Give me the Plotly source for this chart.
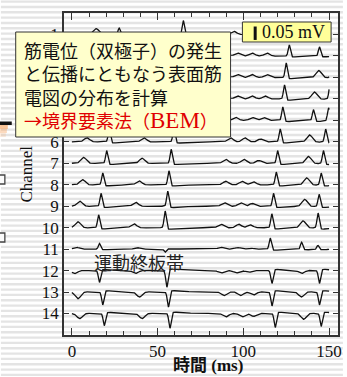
import numpy as np
import plotly.graph_objects as go

# ---------------- data ----------------
channels = list(range(1, 15))
x_tick_vals = [0, 50, 100, 150]
y_tick_vals = channels
scale_bar_mV = 0.05          # size of the scale bar
channel_spacing_mV = 0.08    # vertical distance between two channel baselines
t_start, t_end = 0.0, 150.0

# events per channel: time (ms), amplitude (mV, + = upward), kind (s = sharp spike, b = broad bump)
ch01_t = [14.2, 27.6, 65.0, 94.5]
ch01_a = [0.022, 0.024, 0.052, 0.012]
ch01_k = "bssb"
ch02_t = [96.6, 105.2, 113.8, 126.8, 144.4]
ch02_a = [0.011, 0.011, 0.011, 0.041, 0.034]
ch02_k = "bbbss"
ch03_t = [96.6, 105.2, 113.8, 125.0, 144.0, 151.5]
ch03_a = [0.011, 0.011, 0.011, 0.054, 0.026, 0.050]
ch03_k = "bbbsbs"
ch04_t = [96.6, 105.2, 112.8, 124.0, 141.5, 150.5]
ch04_a = [0.011, 0.011, 0.011, 0.052, 0.026, 0.048]
ch04_k = "bbbsbs"
ch05_t = [95.6, 105.2, 111.9, 123.0, 140.9, 149.7]
ch05_a = [0.011, 0.011, 0.011, 0.050, 0.040, 0.048]
ch05_k = "bbbsss"
ch06_t = [8.8, 21.8, 42.0, 59.5, 92.6, 101.0, 110.0, 121.5, 138.7, 148.0]
ch06_a = [0.015, 0.048, 0.015, 0.052, 0.015, 0.015, 0.011, 0.048, 0.026, 0.048]
ch06_k = "bsbsbbbsbs"
ch07_t = [6.9, 20.3, 41.0, 57.9, 89.8, 100.4, 109.0, 120.0, 138.0, 146.7]
ch07_a = [0.022, 0.047, 0.019, 0.052, 0.015, 0.015, 0.011, 0.047, 0.026, 0.048]
ch07_k = "bsbsbbbsbs"
ch08_t = [6.3, 18.0, 39.2, 56.6, 89.8, 99.4, 106.0, 119.2, 137.0, 145.4]
ch08_a = [0.019, 0.044, 0.015, 0.052, 0.013, 0.013, 0.011, 0.047, 0.026, 0.044]
ch08_k = "bsbsbbbsbs"
ch09_t = [4.6, 17.0, 37.2, 55.9, 88.9, 98.5, 105.2, 117.6, 135.8, 144.2]
ch09_a = [0.019, 0.048, 0.015, 0.056, 0.013, 0.013, 0.011, 0.048, 0.026, 0.045]
ch09_k = "bsbsbbbsbs"
ch10_t = [3.6, 15.6, 36.2, 54.4, 86.9, 97.4, 104.0, 116.6, 134.8, 143.6]
ch10_a = [0.022, 0.048, 0.015, 0.062, 0.013, 0.013, 0.011, 0.052, 0.026, 0.055]
ch10_k = "bsbsbbbsbs"
ch11_t = [2.7, 16.1, 38.0, 54.4, 86.9, 96.6, 104.0, 115.7, 134.0, 143.5]
ch11_a = [0.007, 0.021, 0.006, -0.011, 0.007, 0.006, 0.004, 0.041, 0.026, 0.015]
ch11_k = "bsbsbbbsss"
ch12_t = [1.7, 16.1, 37.2, 55.4, 87.0, 96.0, 103.0, 116.7, 134.0, 144.4]
ch12_a = [-0.011, -0.044, -0.011, -0.062, -0.009, -0.009, -0.007, -0.048, -0.011, -0.048]
ch12_k = "bsbsbbbsbs"
ch13_t = [3.6, 18.0, 39.5, 56.3, 88.9, 98.5, 106.0, 116.7, 133.9, 144.4]
ch13_a = [-0.025, -0.048, -0.019, -0.056, -0.013, -0.013, -0.011, -0.052, -0.019, -0.048]
ch13_k = "bsbsbbbsbs"
ch14_t = [4.6, 18.9, 41.0, 57.2, 89.8, 99.4, 106.0, 118.6, 135.2, 145.4]
ch14_a = [-0.019, -0.045, -0.019, -0.055, -0.013, -0.013, -0.011, -0.052, -0.022, -0.048]
ch14_k = "bsbsbbbsbs"

event_times = [ch01_t, ch02_t, ch03_t, ch04_t, ch05_t, ch06_t, ch07_t,
               ch08_t, ch09_t, ch10_t, ch11_t, ch12_t, ch13_t, ch14_t]
event_amps = [ch01_a, ch02_a, ch03_a, ch04_a, ch05_a, ch06_a, ch07_a,
              ch08_a, ch09_a, ch10_a, ch11_a, ch12_a, ch13_a, ch14_a]
event_kinds = [ch01_k, ch02_k, ch03_k, ch04_k, ch05_k, ch06_k, ch07_k,
               ch08_k, ch09_k, ch10_k, ch11_k, ch12_k, ch13_k, ch14_k]

# ---------------- layout geometry ----------------
W, H = 347, 377
ML, MR, MT, MB = 64, 5, 13, 42
PW, PH = W - ML - MR, H - MT - MB


def px2x(px):
    return (px - ML) / PW


def py2y(py):
    return (H - MB - py) / PH


def waveform(t, times, amps, kinds):
    v = np.zeros_like(t)
    for t0, a, k in zip(times, amps, kinds):
        sig = 0.65 if k == "s" else 1.6
        v += a * np.exp(-0.5 * ((t - t0) / sig) ** 2)
        dt = np.clip(t - t0, 0, None)
        tail = 0.17 if k == "s" else 0.08
        v -= tail * a * (np.exp(-dt / 6.0) - np.exp(-dt / 1.2))
    return v


t = np.round(np.arange(t_start, t_end + 0.05, 0.1), 2)

fig = go.Figure()
for ch, times, amps, kinds in zip(channels, event_times, event_amps, event_kinds):
    v = waveform(t, times, amps, kinds)
    fig.add_trace(go.Scatter(
        x=t, y=ch - v / channel_spacing_mV, mode="lines",
        line=dict(color="#111111", width=1.3), hoverinfo="skip", showlegend=False))

shapes = []
# striped slide background
for k in range(72):
    yc = 1.6 + 5.333 * k
    shapes.append(dict(type="rect", xref="paper", yref="paper",
                       x0=px2x(0), x1=px2x(W), y0=py2y(yc + 1.2), y1=py2y(yc - 1.2),
                       fillcolor="#E4E4E4", line=dict(width=0), layer="below"))
# slide decorations at the left edge
shapes.append(dict(type="rect", xref="paper", yref="paper", x0=px2x(-2), x1=px2x(11),
                   y0=py2y(125), y1=py2y(121.5), fillcolor="#111111", line=dict(width=0), layer="below"))
for i, a in enumerate([0.55, 0.35, 0.18]):
    shapes.append(dict(type="rect", xref="paper", yref="paper", x0=px2x(-2), x1=px2x(7 - i),
                       y0=py2y(125 + 4 * (i + 1)), y1=py2y(125 + 4 * i),
                       fillcolor="rgba(245,150,70,%.2f)" % a, line=dict(width=0), layer="below"))
for yb in (175, 233):
    shapes.append(dict(type="rect", xref="paper", yref="paper", x0=px2x(-5), x1=px2x(4),
                       y0=py2y(yb + 9), y1=py2y(yb), fillcolor="#FAFAFA",
                       line=dict(color="#444444", width=1.3), layer="below"))
# text box
shapes.append(dict(type="rect", xref="paper", yref="paper", x0=px2x(15), x1=px2x(233),
                   y0=py2y(137), y1=py2y(32), fillcolor="#FFFFCC",
                   line=dict(color="#333333", width=1), layer="above"))
# scale box
shapes.append(dict(type="rect", xref="paper", yref="paper", x0=px2x(245), x1=px2x(335),
                   y0=py2y(42), y1=py2y(22), fillcolor="#FFFF99",
                   line=dict(color="#333333", width=1), layer="above"))
# scale bar (0.05 mV in data units)
bar_y0 = 0.63
shapes.append(dict(type="line", xref="x", yref="y", x0=106.9, x1=106.9,
                   y0=bar_y0, y1=bar_y0 + scale_bar_mV / channel_spacing_mV,
                   line=dict(color="#111111", width=3), layer="above"))

serif = "Liberation Serif, Times New Roman, serif"
cjk = "Noto Sans CJK JP, sans-serif"

red = "#E00000"
box_text = ("筋電位（双極子）の発生<br>と伝播にともなう表面筋<br>電図の分布を計算<br>"
            f"<span style='color:{red}'>→境界要素法（</span>"
            f"<span style='color:{red};font-family:Liberation Serif;font-size:23px'>BEM</span>"
            f"<span style='color:{red}'>）</span>")

annotations = [
    dict(xref="paper", yref="paper", x=px2x(21), y=py2y(84.5), xanchor="left", yanchor="middle",
         align="left", showarrow=False, font=dict(family=cjk, size=18, color="#111111"),
         text=box_text),
    dict(xref="paper", yref="paper", x=px2x(297), y=py2y(32), xanchor="center", yanchor="middle",
         showarrow=False, font=dict(family=serif, size=18, color="#111111"), text="0.05 mV"),
    dict(xref="x", yref="y", x=12, y=11.6, xanchor="left", yanchor="middle",
         showarrow=False, font=dict(family=cjk, size=18, color="#222222"), text="運動終板帯"),
    dict(xref="paper", yref="paper", x=px2x(210), y=py2y(365), xanchor="center", yanchor="middle",
         showarrow=False, font=dict(family="Liberation Serif, Noto Sans CJK JP", size=17, color="#111111"),
         text="<b>時間 (ms)</b>"),
    dict(xref="paper", yref="paper", x=px2x(25), y=py2y(174), xanchor="center", yanchor="middle",
         showarrow=False, textangle=-90, font=dict(family=serif, size=17, color="#111111"),
         text="Channel"),
]

fig.update_layout(
    width=W, height=H, margin=dict(l=ML, r=MR, t=MT, b=MB, pad=0),
    paper_bgcolor="white", plot_bgcolor="rgba(0,0,0,0)",
    shapes=shapes, annotations=annotations, showlegend=False,
    xaxis=dict(range=[-4.6, 155.2], tickvals=x_tick_vals, ticks="inside", ticklen=7,
               tickcolor="#333333", showline=True, linecolor="#333333", linewidth=1.5,
               mirror="ticks", showgrid=False, zeroline=False,
               minor=dict(ticks="inside", ticklen=4, dtick=10, tick0=0, tickcolor="#333333", showgrid=False),
               tickfont=dict(family=serif, size=17, color="#111111")),
    yaxis=dict(range=[15, 0], tickvals=y_tick_vals, ticks="inside", ticklen=5,
               tickcolor="#333333", showline=True, linecolor="#333333", linewidth=1.5,
               mirror="ticks", showgrid=False, zeroline=False,
               tickfont=dict(family=serif, size=17, color="#111111")),
)

fig.write_html("out.html", config={"displayModeBar": False},
               post_script="document.body.style.margin='0';document.body.style.overflow='hidden';")
